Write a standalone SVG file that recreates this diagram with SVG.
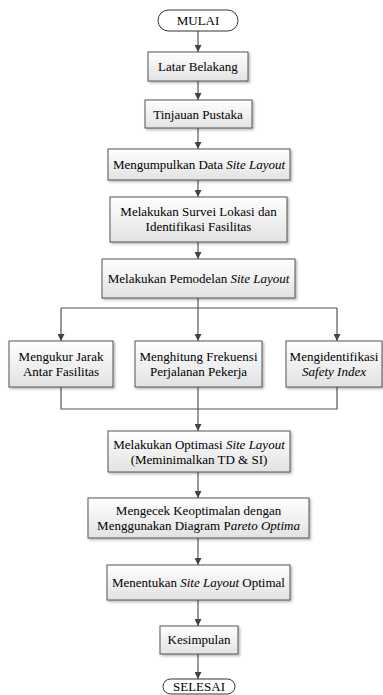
<svg xmlns="http://www.w3.org/2000/svg" width="383" height="695" viewBox="0 0 383 695">
<style>
.box{fill:url(#g);stroke:#555;stroke-width:1;filter:url(#sh)}
.term{fill:#fff;stroke:#333;stroke-width:1}
text{font-family:'Liberation Serif','Times New Roman',serif;font-size:13px;fill:#000;text-anchor:middle}
.i{font-style:italic}
.c{fill:none;stroke:#555;stroke-width:1.2}
</style>
<defs>
<linearGradient id="g" x1="0" y1="0" x2="0" y2="1">
<stop offset="0" stop-color="#ffffff"/>
<stop offset="1" stop-color="#e2e2e2"/>
</linearGradient>
<filter id="sh" x="-10%" y="-10%" width="130%" height="140%">
<feDropShadow dx="1.5" dy="1.5" stdDeviation="1" flood-color="#000" flood-opacity="0.3"/>
</filter>
<marker id="a" viewBox="0 0 10 10" refX="10" refY="5" markerWidth="7" markerHeight="7" markerUnits="userSpaceOnUse" orient="auto">
<path d="M0,0L10,5L0,10z" fill="#444"/>
</marker>
</defs>
<g id="connectors">
<path class="c" d="M198,31V52" marker-end="url(#a)"/>
<path class="c" d="M198,81V100" marker-end="url(#a)"/>
<path class="c" d="M198,128V149" marker-end="url(#a)"/>
<path class="c" d="M198,180V197" marker-end="url(#a)"/>
<path class="c" d="M198,242V259" marker-end="url(#a)"/>
<path class="c" d="M198,298V341" marker-end="url(#a)"/>
<path class="c" d="M61,308H337"/>
<path class="c" d="M61,308V341" marker-end="url(#a)"/>
<path class="c" d="M337,308V341" marker-end="url(#a)"/>
<path class="c" d="M61,387V409H337V387"/>
<path class="c" d="M198,387V431" marker-end="url(#a)"/>
<path class="c" d="M198,472V498" marker-end="url(#a)"/>
<path class="c" d="M198,538V565" marker-end="url(#a)"/>
<path class="c" d="M198,600V626" marker-end="url(#a)"/>
<path class="c" d="M198,654V679" marker-end="url(#a)"/>
</g>
<g id="mulai"><rect class="term" x="158" y="10" width="80" height="21" rx="10.5"/><text x="198" y="25">MULAI</text></g>
<g id="latar"><rect class="box" x="148" y="52" width="100" height="29"/><text x="198" y="71">Latar Belakang</text></g>
<g id="tinjauan"><rect class="box" x="145" y="100" width="107" height="28"/><text x="198" y="118.5">Tinjauan Pustaka</text></g>
<g id="data"><rect class="box" x="108" y="149" width="182" height="31"/><text x="199" y="169">Mengumpulkan Data <tspan class="i">Site Layout</tspan></text></g>
<g id="survei"><rect class="box" x="110" y="197" width="177" height="45"/><text x="198.5" y="216">Melakukan Survei Lokasi dan</text><text x="198.5" y="231">Identifikasi Fasilitas</text></g>
<g id="pemodelan"><rect class="box" x="102" y="259" width="193" height="39"/><text x="198.5" y="283">Melakukan Pemodelan <tspan class="i">Site Layout</tspan></text></g>
<g id="jarak"><rect class="box" x="9" y="341" width="104" height="46"/><text x="61" y="361">Mengukur Jarak</text><text x="61" y="376">Antar Fasilitas</text></g>
<g id="frekuensi"><rect class="box" x="135" y="341" width="127" height="46"/><text x="198.5" y="361">Menghitung Frekuensi</text><text x="198.5" y="376">Perjalanan Pekerja</text></g>
<g id="safety"><rect class="box" x="286" y="341" width="96" height="46"/><text x="334" y="361">Mengidentifikasi</text><text class="i" x="334" y="376">Safety Index</text></g>
<g id="optimasi"><rect class="box" x="108" y="431" width="182" height="41"/><text x="199" y="449">Melakukan Optimasi <tspan class="i">Site Layout</tspan></text><text x="199" y="464">(Meminimalkan TD &amp; SI)</text></g>
<g id="pareto"><rect class="box" x="88" y="498" width="221" height="40"/><text x="198.5" y="515">Mengecek Keoptimalan dengan</text><text x="198.5" y="530">Menggunakan Diagram P<tspan class="i">areto Optima</tspan></text></g>
<g id="menentukan"><rect class="box" x="107" y="565" width="183" height="35"/><text x="198.5" y="587">Menentukan <tspan class="i">Site Layout</tspan> Optimal</text></g>
<g id="kesimpulan"><rect class="box" x="160" y="626" width="78" height="28"/><text x="199" y="644">Kesimpulan</text></g>
<g id="selesai"><rect class="term" x="163" y="679" width="72" height="15" rx="7.5"/><text x="199" y="691">SELESAI</text></g>
</svg>
